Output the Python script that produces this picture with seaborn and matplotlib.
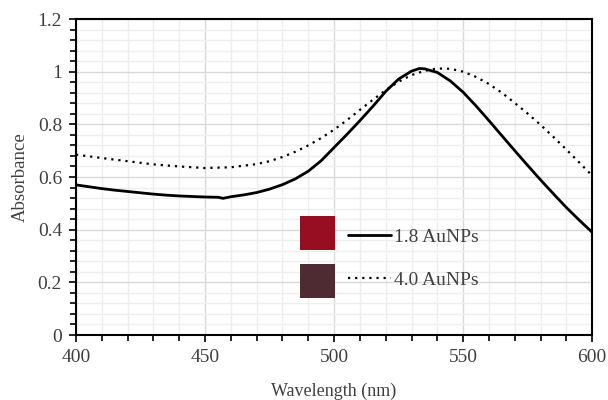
import numpy as np
import pandas as pd
import matplotlib
matplotlib.use("Agg")
import matplotlib.pyplot as plt
import seaborn as sns
from matplotlib.patches import Rectangle
from matplotlib.ticker import MultipleLocator

# ── data ──────────────────────────────────────────────────────────────
wl_18 = [400, 405, 410, 415, 420, 425, 430, 435, 440, 445, 450, 455, 457, 460,
         465, 470, 475, 480, 485, 490, 495, 500, 505, 510, 515, 520, 525, 530,
         533, 535, 540, 545, 550, 555, 560, 565, 570, 575, 580, 585, 590, 595, 600]
abs_18 = [0.570, 0.563, 0.556, 0.550, 0.545, 0.540, 0.535, 0.531, 0.528, 0.526,
          0.524, 0.523, 0.519, 0.525, 0.532, 0.541, 0.554, 0.571, 0.593, 0.622,
          0.662, 0.712, 0.762, 0.814, 0.868, 0.925, 0.972, 1.002, 1.012, 1.011,
          0.997, 0.965, 0.922, 0.870, 0.814, 0.757, 0.700, 0.644, 0.589, 0.536,
          0.484, 0.436, 0.390]

wl_40 = [400, 410, 420, 430, 440, 450, 460, 470, 475, 480, 485, 490, 495, 500,
         505, 510, 515, 520, 525, 530, 535, 540, 545, 550, 555, 560, 565, 570,
         575, 580, 585, 590, 595, 600]
abs_40 = [0.685, 0.672, 0.660, 0.648, 0.640, 0.634, 0.637, 0.649, 0.660, 0.676,
          0.696, 0.720, 0.748, 0.780, 0.816, 0.855, 0.893, 0.930, 0.962, 0.987,
          1.003, 1.012, 1.011, 1.000, 0.980, 0.953, 0.920, 0.881, 0.841, 0.798,
          0.752, 0.704, 0.655, 0.605]

labels = ["1.8 AuNPs", "4.0 AuNPs"]
swatch_colors = ["#970d22", "#4e2b33"]

# ── plot ──────────────────────────────────────────────────────────────
sns.set_theme(style="white")
plt.rcParams["font.family"] = ["Liberation Serif", "DejaVu Serif"]

fig = plt.figure(figsize=(6.08, 4.0), dpi=100)
ax = fig.add_axes([0.125, 0.1625, 0.849, 0.79])

df18 = pd.DataFrame({"wl": wl_18, "abs": abs_18})
df40 = pd.DataFrame({"wl": wl_40, "abs": abs_40})

sns.lineplot(data=df18, x="wl", y="abs", ax=ax, color="black", lw=2.0,
             label=labels[0])
sns.lineplot(data=df40, x="wl", y="abs", ax=ax, color="black", lw=1.6,
             linestyle=(0, (1, 2.2)), label=labels[1])

ax.set_xlim(400, 600)
ax.set_ylim(0, 1.2)
ax.xaxis.set_major_locator(MultipleLocator(50))
ax.xaxis.set_minor_locator(MultipleLocator(10))
ax.yaxis.set_major_locator(MultipleLocator(0.2))
ax.yaxis.set_minor_locator(MultipleLocator(0.04))
ax.set_yticks(np.arange(0, 1.21, 0.2))
ax.set_yticklabels(["0", "0.2", "0.4", "0.6", "0.8", "1", "1.2"])

ax.grid(which="major", color="#d9d9d9", lw=1.0)
ax.grid(which="minor", color="#eeeeee", lw=1.0)
ax.set_axisbelow(True)

for s in ax.spines.values():
    s.set_color("black")
    s.set_linewidth(1.5)

ax.tick_params(which="both", direction="out", color="black", width=1.2,
               bottom=True, left=True, top=False, right=False)
ax.tick_params(which="major", length=5, labelsize=14, pad=5, labelcolor="#404040")
ax.tick_params(which="minor", length=4)

ax.set_xlabel("Wavelength (nm)", fontsize=13, color="#404040", labelpad=12)
ax.set_ylabel("Absorbance", fontsize=13.5, color="#404040", labelpad=6)

# sample colour swatches next to the legend
for i, c in enumerate(swatch_colors):
    ax.add_patch(Rectangle((0.434, 0.269 - i * 0.152), 0.068, 0.108,
                           transform=ax.transAxes, facecolor=c,
                           edgecolor="none", zorder=3))

leg = ax.legend(loc="center left", bbox_to_anchor=(0.493, 0.242), frameon=False,
                fontsize=14, handlelength=2.2, handletextpad=0.15,
                labelspacing=1.3)
for t in leg.get_texts():
    t.set_color("#404040")

fig.savefig("out.png", dpi=100)
